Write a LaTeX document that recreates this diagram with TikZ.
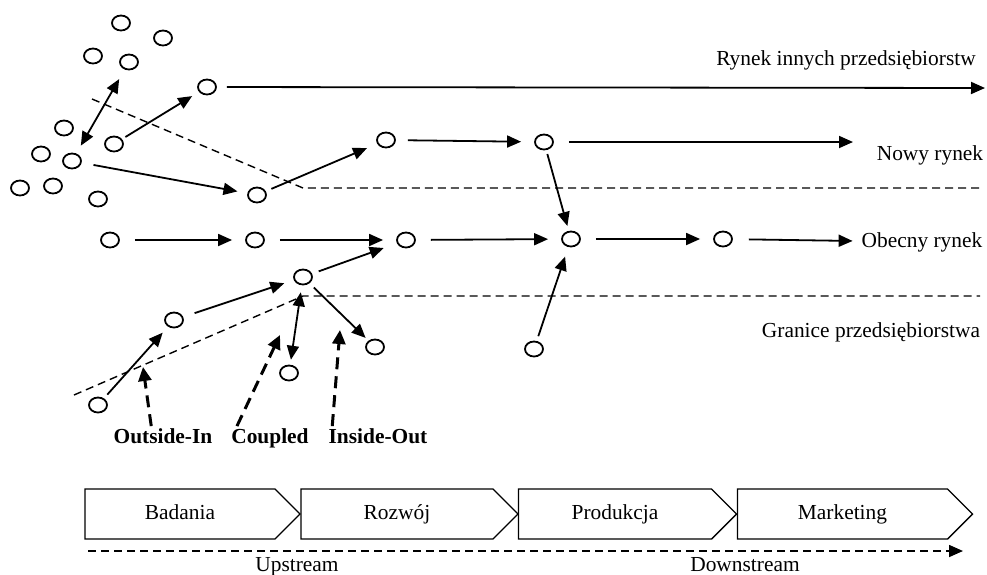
\documentclass[tikz,border=0pt]{standalone}
\usepackage{fontspec}
\setmainfont{Liberation Serif}
\usetikzlibrary{arrows.meta,shapes.geometric,shapes.symbols}

\begin{document}
\begin{tikzpicture}[x=0.5pt,y=-0.5pt,
  font=\fontsize{10.7}{12}\selectfont,
  >={Triangle[length=7pt,width=6pt]},
  kolo/.style={ellipse,draw,line width=0.9pt,minimum width=9pt,minimum height=7.5pt,inner sep=0pt},
  strz/.style={->,line width=0.9pt,shorten <=3pt,shorten >=4pt},
  granica/.style={line width=0.7pt,dash pattern=on 4pt off 2.5pt},
  nurt/.style={->,line width=1.5pt,dash pattern=on 6pt off 3.5pt,>={Triangle[length=7pt,width=6.5pt]}},
  opis/.style={font=\fontsize{10.7}{12}\selectfont\bfseries,inner sep=1pt,text height=7.5pt,text depth=2pt},
  etap/.style={signal,signal to=east,signal pointer angle=90,draw,line width=0.7pt,
    minimum height=25pt,inner sep=0pt,text height=7.5pt,text depth=2pt}]
\useasboundingbox (0,0) rectangle (987,574);

\node[kolo] (A1) at (121,23) {};
\node[kolo] (A2) at (163,38) {};
\node[kolo] (A3) at (93,56) {};
\node[kolo] (A4) at (129,62) {};
\node[kolo] (A5) at (64,128) {};
\node[kolo] (A6) at (114,144) {};
\node[kolo] (A7) at (41,154) {};
\node[kolo] (A8) at (72,161) {};
\node[kolo] (A9) at (20,188) {};
\node[kolo] (A10) at (53,186) {};
\node[kolo] (A11) at (98,199) {};

\node[kolo] (R1) at (207,87) {};
\node[kolo] (N0) at (257,195) {};
\node[kolo] (N1) at (386,140) {};
\node[kolo] (N2) at (544,142) {};
\node[kolo] (O1) at (110,240) {};
\node[kolo] (O2) at (255,240) {};
\node[kolo] (O3) at (406,240) {};
\node[kolo] (O4) at (571,239) {};
\node[kolo] (O5) at (723,239) {};
\node[kolo] (L1) at (98,405) {};
\node[kolo] (L2) at (174,320) {};
\node[kolo] (L3) at (303,277) {};
\node[kolo] (L4) at (289,373) {};
\node[kolo] (L5) at (375,347) {};
\node[kolo] (L6) at (534,349) {};

\node (RI) at (846,60) {Rynek innych przedsiębiorstw};
\node (NR) at (930,155) {Nowy rynek};
\node (OR) at (922,242) {Obecny rynek};
\node (GP) at (871,332) {Granice przedsiębiorstwa};

\coordinate (kR) at (985,88);
\coordinate (kN) at (853,142);
\coordinate (g1) at (92,99);
\coordinate (g2) at (303,188);
\coordinate (g3) at (980,188);
\coordinate (h1) at (74,395);
\coordinate (h2) at (303,296);
\coordinate (h3) at (980,296);

\draw[granica] (g1) -- (g2) -- (g3);
\draw[granica] (h1) -- (h2) -- (h3);

\path[strz]
(A6) edge[shorten <=2pt,shorten >=4pt] (R1)
(A8) edge[shorten <=6pt,shorten >=5pt] (N0)
(R1) edge[shorten <=5pt,shorten >=0pt] (kR)
(N0) edge[shorten <=3pt,shorten >=5.5pt] (N1)
(N2) edge[shorten <=2pt,shorten >=2.5pt] (O4)
(L1) edge[shorten <=2.5pt,shorten >=4pt] (L2)
(L2) edge[shorten <=6pt,shorten >=5pt] (L3)
(L3) edge[shorten <=3.5pt,shorten >=7pt] (O3)
(L3) edge[shorten <=3pt,shorten >=2pt] (L5)
(L6) edge[shorten <=2.5pt,shorten >=5pt] (O4);
\path[strz,<->]
(A4) edge[shorten <=5.5pt,shorten >=4.5pt] (A8)
(L3) edge[shorten <=3.5pt,shorten >=2.5pt] (L4);
\path[strz,shorten <=7.5pt,shorten >=6.5pt]
(N1) edge[shorten <=6pt,shorten >=6.5pt] (N2)
(N2) edge[shorten >=0pt] (kN)
(O1) edge (O2)
(O2) edge (O3)
(O3) edge (O4)
(O4) edge (O5)
(O5) edge[shorten <=8pt,shorten >=1pt] (OR);

\node[opis] (OI) at (163,438) {Outside-In};
\node[opis] (CP) at (270,438) {Coupled};
\node[opis] (IO) at (378,438) {Inside-Out};
\coordinate (aOI) at (143,367);
\coordinate (aCP) at (280,335);
\coordinate (aIO) at (340,330);
\draw[nurt] ([xshift=20pt]OI.north west) -- (aOI);
\draw[nurt] ([xshift=4pt]CP.north west) -- (aCP);
\draw[nurt] ([xshift=3pt]IO.north west) -- (aIO);

\node[etap,minimum width=107.5pt] (E1) at (180,514) {Badania};
\node[etap,minimum width=108.5pt] (E2) at (397,514) {Rozwój};
\node[etap,minimum width=109pt] (E3) at (615,514) {Produkcja};
\node[etap,minimum width=117.5pt] (E4) at (842.5,514) {Marketing};

\coordinate (u1) at (88,551);
\coordinate (u2) at (963,551);
\draw[->,granica,line width=0.8pt] (u1) -- (u2);
\node (UP) at (297,567) {Upstream};
\node (DN) at (745,565) {Downstream};
\end{tikzpicture}
\end{document}
